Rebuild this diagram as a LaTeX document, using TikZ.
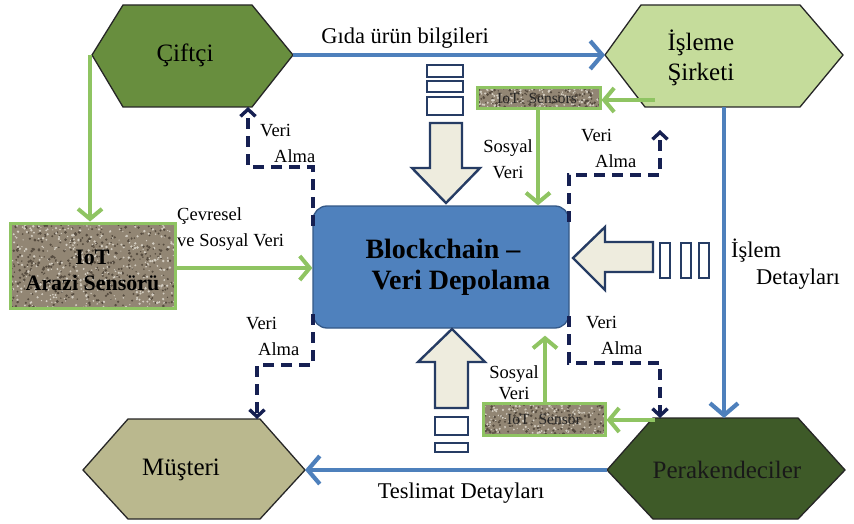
\documentclass[tikz,border=0pt]{standalone}
\usepackage{fontspec}
\setmainfont{Liberation Serif}
\usetikzlibrary{arrows.meta}
\definecolor{cifc}{RGB}{104,142,62}
\definecolor{islc}{RGB}{197,220,155}
\definecolor{musc}{RGB}{186,184,142}
\definecolor{perc}{RGB}{62,90,40}
\definecolor{blkc}{RGB}{79,129,189}
\definecolor{blkd}{RGB}{52,88,135}
\definecolor{arrb}{RGB}{78,128,188}
\definecolor{arrg}{RGB}{143,196,98}
\definecolor{navy}{RGB}{22,32,82}
\definecolor{cream}{RGB}{238,236,222}
\definecolor{bdark}{RGB}{38,60,100}
\definecolor{gravb}{RGB}{146,134,116}
\definecolor{gravd}{RGB}{86,76,64}
\definecolor{gravl}{RGB}{212,206,194}
\newcommand\gravelfill[5]{%
  \begin{scope}
    \clip (#1,#2) rectangle (#3,#4);
    \fill[gravb] (#1,#2) rectangle (#3,#4);
    \foreach \k in {1,...,#5}{%
      \fill[gravd] ({#1+(#3-#1)*rnd},{#2+(#4-#2)*rnd}) circle ({0.7+0.9*rnd});
      \fill[gravl] ({#1+(#3-#1)*rnd},{#2+(#4-#2)*rnd}) circle ({0.6+0.8*rnd});
    }
  \end{scope}}
\tikzset{
  hexline/.style={draw=black!85, line width=1.3pt, line join=miter},
  hextext/.style={font=\fontsize{25}{30}\selectfont, align=left},
  barrow/.style={draw=arrb, line width=4.2pt, -{Straight Barb[length=12pt,width=28pt]}},
  garrow/.style={draw=arrg, line width=4pt, -{Straight Barb[length=10pt,width=24pt]}},
  darrow/.style={draw=navy, line width=3.4pt, dash pattern=on 11pt off 7pt, -{Straight Barb[length=7pt,width=15pt]}},
  lbl/.style={font=\fontsize{22.5}{27}\selectfont, align=left, inner sep=0pt},
  slbl/.style={font=\fontsize{18.5}{26}\selectfont, align=left, inner sep=0pt},
  blockarr/.style={draw=bdark, line width=2.4pt, fill=cream, line join=miter},
  smallrect/.style={draw=bdark, line width=2.4pt, fill=white},
  sensor/.style={draw=arrg, line width=3pt},
}
\begin{document}
\begin{tikzpicture}[x=1pt,y=-1pt]
\useasboundingbox[fill=white] (0,0) rectangle (854,524);
\pgfmathsetseed{11}
% ---------- hexagons ----------
\fill[cifc] (92,55) -- (123,5) -- (252,5) -- (293,55) -- (252,107) -- (123,107) -- cycle;
\draw[hexline] (92,55) -- (123,5) -- (252,5) -- (293,55) -- (252,107) -- (123,107) -- cycle;
\node[hextext] (ciftci) at (185,55) {Çiftçi};
\coordinate (ciftciR) at (293,55);
\coordinate (ciftciL) at (90,55);
\coordinate (ciftciB) at (248,107);

\fill[islc] (605,55) -- (641,5) -- (800,5) -- (843,55) -- (800,107) -- (645,107) -- cycle;
\draw[hexline] (605,55) -- (641,5) -- (800,5) -- (843,55) -- (800,107) -- (645,107) -- cycle;
\node[hextext, anchor=west] (isleme) at (664,58) {İşleme\\Şirketi};
\coordinate (islemeL) at (605,55);
\coordinate (islemeB) at (724,107);
\coordinate (islemeG) at (655,100);

\fill[musc] (83,470) -- (128,419) -- (260,419) -- (305,470) -- (260,519) -- (128,519) -- cycle;
\draw[hexline] (83,470) -- (128,419) -- (260,419) -- (305,470) -- (260,519) -- (128,519) -- cycle;
\node[hextext] (musteri) at (181,470) {Müşteri};
\coordinate (musteriR) at (305,470);
\coordinate (musteriT) at (257,419);

\fill[perc] (607,470) -- (653,418) -- (798,418) -- (845,470) -- (798,519) -- (653,519) -- cycle;
\draw[hexline] (607,470) -- (653,418) -- (798,418) -- (845,470) -- (798,519) -- (653,519) -- cycle;
\node[hextext, text=black!90] (perakende) at (727,470) {Perakendeciler};
\coordinate (perL) at (607,470);
\coordinate (perT) at (724,418);
\coordinate (perTd) at (660,418);
\coordinate (perG) at (655,420);

% ---------- blockchain box ----------
\node[draw=blkd, fill=blkc, line width=1.3pt, rounded corners=14pt,
      minimum width=256pt, minimum height=122pt, inner sep=0pt] (block) at (441,267) {};
\node[font=\fontsize{28}{31}\selectfont\bfseries, align=left, anchor=west] (blocktext) at (362,267)
  {Blockchain –\\\hspace{6pt}Veri Depolama};

% ---------- IoT Arazi Sensoru ----------
\gravelfill{10}{223}{175}{308}{420}
\node[sensor, minimum width=165pt, minimum height=85pt, inner sep=0pt] (arazi) at (92.5,265.5) {};
\node[font=\fontsize{22}{26}\selectfont\bfseries, align=center] (arazitext) at (92.5,270) {IoT\\Arazi Sensörü};

% ---------- small IoT sensor boxes ----------
\gravelfill{477}{88}{600}{109}{130}
\node[sensor, minimum width=123pt, minimum height=21pt, inner sep=0pt] (sensors) at (538.5,98.5) {};
\node[font=\fontsize{15.5}{17}\selectfont, text=black!85] at (537,98.5) {IoT\,\, Sensors};

\gravelfill{483}{403}{605}{435}{160}
\node[sensor, minimum width=122pt, minimum height=32pt, inner sep=0pt] (sensor) at (544,419) {};
\node[font=\fontsize{15.5}{17}\selectfont, text=black!85] at (544,419) {IoT\,\, Sensör};

% ---------- blue arrows ----------
\draw[barrow] (ciftciR) -- (islemeL);
\node[lbl] (gida) at (405,38) {Gıda ürün bilgileri};
\draw[barrow] (islemeB) -- (perT);
\node[lbl, anchor=west] (islemlbl) at (731,264) {İşlem\\\hspace{25pt}Detayları};
\draw[barrow] (perL) -- (musteriR);
\node[lbl] (teslimat) at (461,493) {Teslimat Detayları};

% ---------- green arrows ----------
\draw[garrow] (ciftciL) -- (arazi.north -| ciftciL);
\draw[garrow] (arazi.east |- 0,268) -- (block.west |- 0,268);
\node[slbl, anchor=west] (cevresel) at (177,229) {Çevresel\\ve Sosyal Veri};
\draw[garrow] (islemeG) -- (sensors.east |- islemeG);
\draw[garrow] (sensors.south -| 538,0) -- (block.north -| 538,0);
\node[slbl, align=center] (sosyal1) at (508,159) {Sosyal\\Veri};
\draw[garrow] (perG) -- (sensor.east |- perG);
\draw[garrow, shorten >=7pt] (sensor.north -| 545,0) -- (block.south -| 545,0);
\node[font=\fontsize{18.5}{21}\selectfont, align=center, inner sep=0pt] (sosyal2) at (514,383) {Sosyal\\Veri};

% ---------- dashed navy arrows ----------
\coordinate (tl1) at (313,226);
\coordinate (bl1) at (313,314);
\coordinate (tr1) at (569,222);
\coordinate (br1) at (569,316);
\coordinate (trEnd) at (660,130);
\draw[darrow] (tl1) -- (313,167) -- (248,167) -- (ciftciB);
\node[slbl, anchor=west] (va1) at (260,143) {Veri\\\hspace{14pt}Alma};
\draw[darrow] (bl1) -- (313,365) -- (257,365) -- (musteriT);
\node[slbl, anchor=west] (va2) at (246,336) {Veri\\\hspace{12pt}Alma};
\draw[darrow] (tr1) -- (569,175) -- (660,175) -- (trEnd);
\node[slbl, anchor=west] (va3) at (581,148) {Veri\\\hspace{14pt}Alma};
\draw[darrow] (br1) -- (569,363) -- (660,363) -- (perTd);
\node[slbl, anchor=west] (va4) at (586,335) {Veri\\\hspace{15pt}Alma};

% ---------- block arrows ----------
\draw[blockarr] (430,123) -- (462,123) -- (462,168) -- (480,168) -- (446,203) -- (412,168) -- (430,168) -- cycle;
\draw[smallrect] (427,65) rectangle (463,77);
\draw[smallrect] (427,81) rectangle (463,92);
\draw[smallrect] (427,97) rectangle (463,115);

\draw[blockarr] (653,242) -- (653,272) -- (605,272) -- (605,290) -- (573,258) -- (605,227) -- (605,242) -- cycle;
\draw[smallrect] (660,243) rectangle (670,278);
\draw[smallrect] (681,243) rectangle (691,278);
\draw[smallrect] (699,243) rectangle (709,278);

\draw[blockarr] (435,408) -- (468,408) -- (468,362) -- (485,362) -- (452,329) -- (418,362) -- (435,362) -- cycle;
\draw[smallrect] (435,417) rectangle (468,435);
\draw[smallrect] (435,443) rectangle (468,452);
\end{tikzpicture}
\end{document}
